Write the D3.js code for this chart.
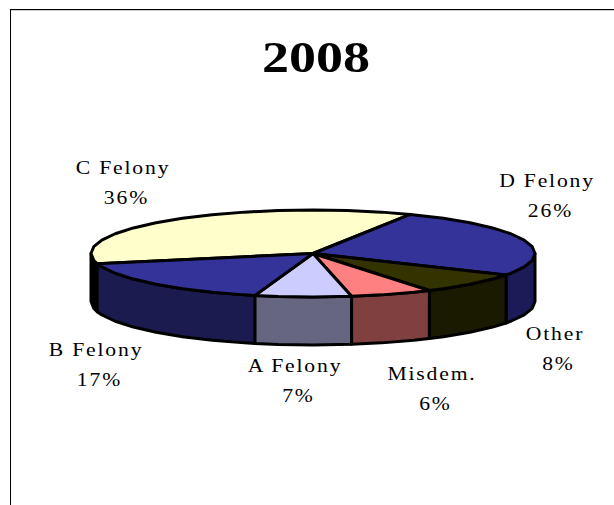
<!DOCTYPE html>
<html>
<head>
<meta charset="utf-8">
<script src="https://cdn.jsdelivr.net/npm/d3@7"></script>
<style>
  html, body { margin: 0; padding: 0; background: #fff; }
  svg { display: block; }
  text { font-family: "Liberation Serif", serif; fill: #000; }
</style>
</head>
<body>
<svg id="chart" width="614" height="505"></svg>
<script>
var title = "2008";
var categories = ["C Felony", "D Felony", "Other", "Misdem.", "A Felony", "B Felony"];
var values = [36, 26, 8, 6, 7, 17];

var topColors = ["#ffffcc", "#333399", "#333300", "#ff8080", "#ccccff", "#333399"];
var sideColors = ["#000000", "#1b1b57", "#1a1a00", "#804040", "#666680", "#1b1b4f"];
// centre of each label, first line
var labelSpots = [[123, 168], [547, 181], [555, 334], [432, 374], [295, 366], [96, 350]];

var svg = d3.select("#chart");

// frame of the slide, only top and left show
svg.append("rect").attr("x", 11).attr("y", 10).attr("width", 603).attr("height", 1).attr("fill", "#ccc");
svg.append("line").attr("x1", 10).attr("x2", 614).attr("y1", 9.5).attr("y2", 9.5).attr("stroke", "#000");
svg.append("line").attr("x1", 10.5).attr("x2", 10.5).attr("y1", 9).attr("y2", 505).attr("stroke", "#000");

svg.append("text")
    .attr("x", 316)
    .attr("y", 72)
    .attr("text-anchor", "middle")
    .attr("textLength", 108)
    .attr("lengthAdjust", "spacingAndGlyphs")
    .style("font-size", "45px")
    .style("font-weight", "bold")
    .text(title);

// unit circle squashed to an ellipse
var xScale = d3.scaleLinear().domain([-1, 1]).range([91, 535]);
var yScale = d3.scaleLinear().domain([-1, 1]).range([210, 297]);
var depth = 48;

var start = -103.6 * Math.PI / 180;
var pie = d3.pie().sort(null).startAngle(start).endAngle(start + 2 * Math.PI);
var slices = pie(values);

var step = 9 * Math.PI / 180;
function rimAngles(a0, a1) {
    var first = Math.ceil(a0 / step + 0.2) * step;
    var list = [a0];
    for (var a = first; a < a1 - step * 0.2; a += step) list.push(a);
    list.push(a1);
    return list;
}
function rimX(a) { return xScale(Math.sin(a)); }
function rimY(a) { return yScale(-Math.cos(a)); }

var line = d3.line().x(function(d) { return d[0]; }).y(function(d) { return d[1]; });

function wallPath(a0, a1) {
    var angles = rimAngles(a0, a1);
    var upper = angles.map(function(a) { return [rimX(a), rimY(a)]; });
    var lower = angles.slice().reverse().map(function(a) { return [rimX(a), rimY(a) + depth]; });
    return line(upper.concat(lower)) + "Z";
}

function topPath(d) {
    var pts = [[xScale(0), yScale(0)]].concat(rimAngles(d.startAngle, d.endAngle).map(function(a) {
        return [rimX(a), rimY(a)];
    }));
    return line(pts) + "Z";
}

// only the part of the rim facing the viewer gets a wall
var walls = [];
slices.forEach(function(d, i) {
    [[Math.PI / 2, 3 * Math.PI / 2], [-3 * Math.PI / 2, -Math.PI / 2]].forEach(function(front) {
        var a0 = Math.max(d.startAngle, front[0]);
        var a1 = Math.min(d.endAngle, front[1]);
        if (a1 > a0) walls.push({a0: a0, a1: a1, color: sideColors[i]});
    });
});

svg.append("g")
    .selectAll("path")
    .data(walls)
    .enter()
    .append("path")
    .attr("d", function(d) { return wallPath(d.a0, d.a1); })
    .attr("fill", function(d) { return d.color; })
    .attr("stroke", "#000")
    .attr("stroke-width", 3)
    .attr("stroke-linejoin", "round");

svg.append("g")
    .selectAll("path")
    .data(slices)
    .enter()
    .append("path")
    .attr("d", topPath)
    .attr("fill", function(d, i) { return topColors[i]; })
    .attr("stroke", "#000")
    .attr("stroke-width", 3)
    .attr("stroke-linejoin", "round");

var labels = svg.append("g")
    .selectAll("g")
    .data(categories)
    .enter()
    .append("g")
    .attr("transform", function(d, i) { return "translate(" + labelSpots[i][0] + "," + labelSpots[i][1] + ") scale(1.14,1)"; })
    .attr("text-anchor", "middle")
    .style("font-size", "19px")
    .style("letter-spacing", "1.6px");

labels.append("text")
    .attr("y", 6)
    .text(function(d) { return d; });

labels.append("text")
    .attr("x", 3)
    .attr("y", 36)
    .text(function(d, i) { return values[i] + "%"; });
</script>
</body>
</html>
